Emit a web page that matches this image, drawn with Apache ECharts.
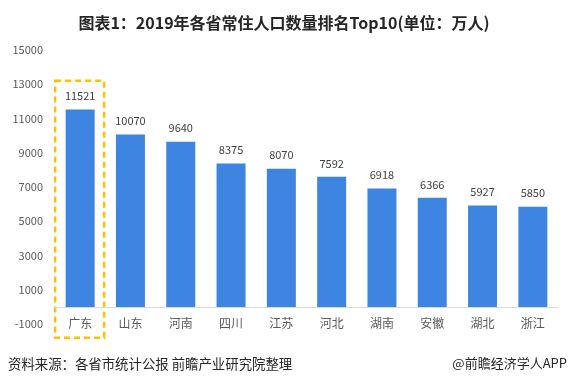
<!DOCTYPE html>
<html><head><meta charset="utf-8">
<script src="https://cdn.jsdelivr.net/npm/echarts@6/dist/echarts.min.js"></script>
<style>html,body{margin:0;padding:0;background:#fff}#c{width:568px;height:382px}</style>
</head><body><div id="c"></div>
<script>
var categories = ['广东','山东','河南','四川','江苏','河北','湖南','安徽','湖北','浙江'];
var population = [11521,10070,9640,8375,8070,7592,6918,6366,5927,5850];
var yMin = -1000, yMax = 15000, yStep = 1000;
var highlighted = '广东';

var chart = echarts.init(document.getElementById('c'));
var font = '"Noto Sans CJK SC", "Noto Sans", sans-serif';
var footer = [
  {type: 'text', left: 8, top: 357, style: {text: '资料来源：各省市统计公报 前瞻产业研究院整理', fontSize: 13.4, fill: '#262626', fontFamily: font}},
  {type: 'text', right: 1, top: 357, style: {text: '@前瞻经济学人APP', fontSize: 13, fill: '#262626', fontFamily: font}}
];
chart.setOption({
  animation: false,
  textStyle: {fontFamily: font},
  title: {
    text: '图表1：2019年各省常住人口数量排名Top10(单位：万人)',
    left: 'center', top: 10,
    textStyle: {fontSize: 16, fontWeight: 'bold', color: '#262626', fontFamily: font}
  },
  grid: {left: 55, right: 10, top: 50, bottom: 58, containLabel: false},
  xAxis: {
    type: 'category', data: categories,
    axisLine: {onZero: true, lineStyle: {color: '#D9D9D9', width: 1}},
    axisTick: {show: false},
    axisLabel: {color: '#595959', fontSize: 12, margin: -7}
  },
  yAxis: {
    type: 'value', min: yMin, max: yMax, interval: yStep,
    splitLine: {show: false},
    axisLine: {show: false}, axisTick: {show: false},
    axisLabel: {
      color: '#595959', fontSize: 11, margin: 12,
      formatter: function (v) { return (Math.round(v / 1000) % 2 !== 0) ? String(v) : ''; }
    }
  },
  series: [{
    type: 'bar', data: population, barWidth: 29,
    itemStyle: {color: '#3E85E1'},
    label: {show: true, position: 'top', distance: 8, color: '#404040', fontSize: 11}
  }],
  graphic: footer
});

var idx = categories.indexOf(highlighted);
var c0 = chart.convertToPixel({gridIndex: 0}, [idx, 13200]);
var c1 = chart.convertToPixel({gridIndex: 0}, [idx, -1800]);
var halfBand = 25;
chart.setOption({
  graphic: footer.concat([
    {type: 'rect', shape: {x: c0[0] - halfBand, y: c0[1], width: 2 * halfBand - 1, height: c1[1] - c0[1]},
     style: {fill: 'none', stroke: '#FFC000', lineWidth: 2.5, lineDash: [6, 4]}}
  ])
}, {replaceMerge: ['graphic']});
</script></body></html>
